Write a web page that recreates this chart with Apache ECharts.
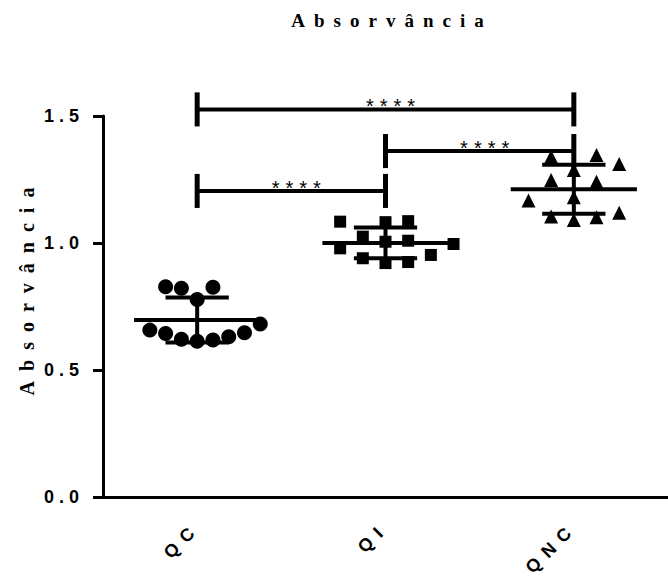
<!DOCTYPE html>
<html>
<head>
<meta charset="utf-8">
<style>
  html, body { margin: 0; padding: 0; background: #ffffff; }
  #chart { width: 668px; height: 577px; }
</style>
<script src="https://cdn.jsdelivr.net/npm/echarts@6/dist/echarts.min.js"></script>
</head>
<body>
<div id="chart"></div>
<script>
// ---- data: absorbance of each replicate, by group ----
const categories = ['QC', 'QI', 'QNC'];
const qcValues  = [0.828, 0.822, 0.778, 0.826, 0.657, 0.644, 0.621, 0.613, 0.618, 0.631, 0.647, 0.681];
const qiValues  = [1.086, 1.084, 1.082, 1.025, 1.009, 1.005, 0.979, 0.940, 0.925, 0.921, 0.953, 0.996];
const qncValues = [1.340, 1.287, 1.311, 1.346, 1.241, 1.248, 1.167, 1.180, 1.104, 1.091, 1.101, 1.119];
const yTickValues = [0, 0.5, 1.0, 1.5];
// pairwise comparisons and their significance
const comparisonPairs = [['QC', 'QNC'], ['QI', 'QNC'], ['QC', 'QI']];
const comparisonLabels = ['****', '****', '****'];
const titleText = 'Absorvância';
const yAxisTitle = 'Absorvância';

// ---- layout ----
const W = 668, H = 577;
const GRID = { left: 103, top: 116, bottom: 80, width: 573 };
const Y_MIN = 0, Y_MAX = 1.5;
const X_PX = GRID.width / categories.length;                 // px per category
const Y_PX = (H - GRID.top - GRID.bottom) / (Y_MAX - Y_MIN); // px per absorbance unit
const MEAN_HALF = 0.335;   // half length of the mean bar (category units)
const CAP_HALF = 0.168;    // half length of the SD caps
const BRACKET_LEVELS = [1.526, 1.362, 1.205];
const BRACKET_LEG = 0.067;
const STAR_SHIFT = 8;      // px, nudges the asterisks right of the bracket middle
const FONT_SANS = 'Liberation Sans, Arial, sans-serif';
const FONT_SERIF = 'Liberation Serif, Times New Roman, serif';

const groups = [
  { name: 'QC',  values: qcValues,  symbol: 'circle',   size: 15, step: 16 },
  { name: 'QI',  values: qiValues,  symbol: 'rect',     size: 12, step: 23 },
  { name: 'QNC', values: qncValues, symbol: 'triangle', size: 14, step: 23 }
];

// Spread replicates sideways so markers at a similar height don't pile up:
// lowest values go nearest the centre, ties alternate to keep the cloud balanced.
function swarmOffsets(values, stepPx, rowPx) {
  const order = values.map((v, i) => i).sort((a, b) => values[a] - values[b]);
  const placed = [];
  const off = new Array(values.length);
  const free = (c, y) => placed.every(p =>
    Math.abs(p.y - y) >= rowPx || Math.abs(p.x - c) >= stepPx - 1e-6);
  order.forEach(i => {
    const y = values[i] * Y_PX;
    const sum = placed.reduce((s, p) => s + p.x, 0);
    for (let k = 0; k < 100; k++) {
      let cands = k === 0 ? [0] : [k * stepPx / 2, -k * stepPx / 2];
      cands = cands.filter(c => free(c, y));
      if (cands.length) {
        cands.sort((a, b) => Math.abs(sum + a) - Math.abs(sum + b));
        off[i] = cands[0];
        placed.push({ x: cands[0], y });
        break;
      }
    }
  });
  return off.map(x => x / X_PX);
}

function mean(a) { return a.reduce((s, v) => s + v, 0) / a.length; }
function sd(a) {
  const m = mean(a);
  return Math.sqrt(a.reduce((s, v) => s + (v - m) * (v - m), 0) / (a.length - 1));
}

const scatterSeries = groups.map((g, gi) => {
  const offs = swarmOffsets(g.values, g.step, 19.5);
  return {
    type: 'scatter', name: g.name, xAxisIndex: 1, yAxisIndex: 0,
    symbol: g.symbol, symbolSize: g.size,
    itemStyle: { color: '#000000', opacity: 1 },
    data: g.values.map((v, i) => [gi + offs[i], v]), z: 2
  };
});

// mean ± SD for each group
const summaryData = groups.map((g, gi) => [gi, mean(g.values), sd(g.values)]);

const summarySeries = {
  type: 'custom', xAxisIndex: 1, yAxisIndex: 0, z: 3, data: summaryData,
  renderItem(params, api) {
    const i = api.value(0), m = api.value(1), s = api.value(2);
    const st = { stroke: '#000000', lineWidth: 4 };
    const seg = (a, b) => ({ type: 'line', shape: { x1: a[0], y1: a[1], x2: b[0], y2: b[1] }, style: st });
    return { type: 'group', children: [
      seg(api.coord([i - MEAN_HALF, m]), api.coord([i + MEAN_HALF, m])),
      seg(api.coord([i, m - s]), api.coord([i, m + s])),
      seg(api.coord([i - CAP_HALF, m + s]), api.coord([i + CAP_HALF, m + s])),
      seg(api.coord([i - CAP_HALF, m - s]), api.coord([i + CAP_HALF, m - s]))
    ] };
  }
};

// significance brackets between groups
const bracketData = comparisonPairs.map((p, k) =>
  [categories.indexOf(p[0]), categories.indexOf(p[1]), BRACKET_LEVELS[k], k]);

const bracketSeries = {
  type: 'custom', xAxisIndex: 1, yAxisIndex: 0, z: 4, clip: false, data: bracketData,
  renderItem(params, api) {
    const a = api.value(0), b = api.value(1), lvl = api.value(2), k = api.value(3);
    const L = api.coord([a, lvl]), R = api.coord([b, lvl]);
    const Lt = api.coord([a, lvl + BRACKET_LEG]), Lb = api.coord([a, lvl - BRACKET_LEG]);
    const Rt = api.coord([b, lvl + BRACKET_LEG]), Rb = api.coord([b, lvl - BRACKET_LEG]);
    return { type: 'group', children: [
      { type: 'line', shape: { x1: L[0], y1: L[1], x2: R[0], y2: R[1] }, style: { stroke: '#000', lineWidth: 4 } },
      { type: 'line', shape: { x1: Lt[0], y1: Lt[1], x2: Lb[0], y2: Lb[1] }, style: { stroke: '#000', lineWidth: 5 } },
      { type: 'line', shape: { x1: Rt[0], y1: Rt[1], x2: Rb[0], y2: Rb[1] }, style: { stroke: '#000', lineWidth: 5 } },
      { type: 'text', style: {
          text: comparisonLabels[k], x: (L[0] + R[0]) / 2 + STAR_SHIFT, y: L[1] + 7,
          align: 'center', verticalAlign: 'bottom', fill: '#000',
          font: 'normal 20px ' + FONT_SANS } }
    ] };
  }
};

const chart = echarts.init(document.getElementById('chart'), null, { renderer: 'svg', width: W, height: H });

chart.setOption({
  animation: false,
  backgroundColor: '#ffffff',
  title: {
    text: titleText, left: 387, top: 6, textAlign: 'center',
    textStyle: { fontFamily: FONT_SERIF, fontWeight: 'bold', fontSize: 19, color: '#000' }
  },
  grid: { left: GRID.left, top: GRID.top, bottom: GRID.bottom, width: GRID.width, containLabel: false },
  xAxis: [
    {
      type: 'category', data: categories, boundaryGap: true,
      axisLine: { lineStyle: { color: '#000', width: 3 } },
      axisTick: { alignWithLabel: true, length: 10, lineStyle: { color: '#000', width: 3 } },
      axisLabel: { rotate: 45, margin: 28, color: '#000', fontFamily: FONT_SANS, fontWeight: 'bold', fontSize: 18 },
      splitLine: { show: false }
    },
    { type: 'value', min: -0.5, max: categories.length - 0.5, show: false }
  ],
  yAxis: {
    type: 'value', min: Y_MIN, max: Y_MAX, interval: 0.5,
    name: yAxisTitle, nameLocation: 'middle', nameGap: 66, nameRotate: 90,
    nameTextStyle: { fontFamily: FONT_SERIF, fontWeight: 'bold', fontSize: 20, color: '#000', padding: [0, 0, 0, 40] },
    axisLine: { show: true, onZero: false, lineStyle: { color: '#000', width: 3 } },
    axisTick: { show: true, length: 10, lineStyle: { color: '#000', width: 3 } },
    axisLabel: { margin: 19, color: '#000', fontFamily: FONT_SANS, fontWeight: 'bold', fontSize: 18,
      customValues: yTickValues, formatter: v => v.toFixed(1) },
    splitLine: { show: false }
  },
  series: [...scatterSeries, summarySeries, bracketSeries]
});

// Letter tracking for the printed labels (the SVG renderer keeps text as <text> nodes).
function applyTracking() {
  chart.getDom().querySelectorAll('text').forEach(t => {
    const s = (t.textContent || '').trim();
    const rotated = /matrix|rotate/.test(t.getAttribute('transform') || '');
    let px = 0;
    if (s === titleText && !rotated) px = 9;
    else if (s === yAxisTitle && rotated) px = 10;
    else if (categories.includes(s)) px = 8;
    else if (s === '****') px = 6;
    else if (/^\d\.\d$/.test(s)) px = 5;
    if (px) t.setAttribute('letter-spacing', px + 'px');
  });
}
applyTracking();
chart.on('finished', applyTracking);
</script>
</body>
</html>
